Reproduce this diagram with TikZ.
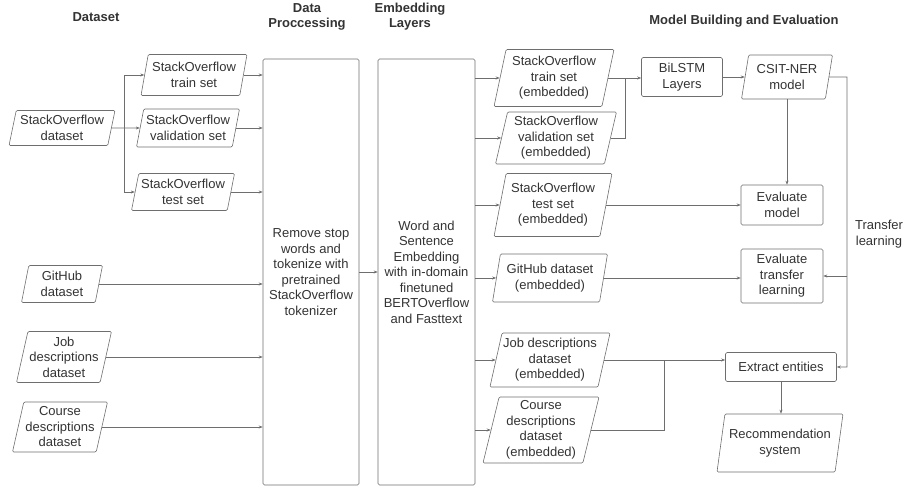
\documentclass[tikz,border=0pt]{standalone}
\usepackage{fontspec}
\setmainfont{Liberation Sans}
\usepackage{tikz}
\usetikzlibrary{arrows.meta}
\usetikzlibrary{shapes.geometric}
\definecolor{linecol}{HTML}{6E6E6E}
\definecolor{textcol}{HTML}{333333}
\tikzset{
  data/.style={trapezium, trapezium left angle=75, trapezium right angle=105, trapezium stretches body,
    draw=linecol, rounded corners=1.2pt, align=center, inner sep=1pt, text=textcol},
  box/.style={rectangle, draw=linecol, rounded corners=1.5pt, align=center, inner sep=1pt, text=textcol},
  head/.style={align=center, font=\fontsize{13}{15}\selectfont\bfseries, text=textcol},
}
\begin{document}
\begin{tikzpicture}[x=1pt, y=-1pt, line width=0.6pt, >={Stealth[length=4pt,width=3pt]},
    every node/.style={font=\fontsize{13}{15.5}\selectfont}]
      \useasboundingbox (0,0) rectangle (906,486);
      \node[head] at (96,17) (h1){Dataset};
      \node[head] at (307,17) (h2){Data\\Proccessing};
      \node[head] at (410,17) (h3){Embedding\\Layers};
      \node[head] at (744,21) (h4){Model Building and Evaluation};
      \node[data, minimum width=106, minimum height=35] at (62,128) (so){StackOverflow\\dataset};
      \node[data, minimum width=106, minimum height=41] at (194,75) (sotr){StackOverflow\\train set};
      \node[data, minimum width=103, minimum height=38] at (188,128) (soval){StackOverflow\\validation set};
      \node[data, minimum width=103, minimum height=37] at (183,192) (sote){StackOverflow\\test set};
      \node[data, minimum width=81, minimum height=37] at (62,284) (gh){GitHub\\dataset};
      \node[data, minimum width=95, minimum height=51] at (64,357) (job){Job\\descriptions\\dataset};
      \node[data, minimum width=95, minimum height=50] at (60,427) (co){Course\\descriptions\\dataset};
      \node[box, minimum width=96, minimum height=426] at (311,272) (dp){Remove stop\\words and\\tokenize with\\pretrained\\StackOverflow\\tokenizer};
      \node[box, minimum width=97, minimum height=426] at (426.5,272) (emb){Word and\\Sentence\\Embedding\\with in-domain\\finetuned\\BERTOverflow\\and Fasttext};
      \node[data, minimum width=120, minimum height=57] at (554,78) (sotre){StackOverflow\\train set\\(embedded)};
      \node[data, minimum width=121, minimum height=52] at (556,138) (sovle){StackOverflow\\validation set\\(embedded)};
      \node[data, minimum width=118, minimum height=63] at (553,205) (sotee){StackOverflow\\test set\\(embedded)};
      \node[data, minimum width=115, minimum height=48] at (550,278) (ghe){GitHub dataset\\(embedded)};
      \node[data, minimum width=115, minimum height=54] at (550,360) (jobe){Job descriptions\\dataset\\(embedded)};
      \node[data, minimum width=116, minimum height=66] at (541,430) (coe){Course\\descriptions\\dataset\\(embedded)};
      \node[box, minimum width=81, minimum height=39] at (682,77) (bil){BiLSTM\\Layers};
      \node[data, minimum width=91, minimum height=44] at (787,77) (csit){CSIT-NER\\model};
      \node[box, minimum width=82, minimum height=40] at (782,205) (evm){Evaluate\\model};
      \node[box, minimum width=82, minimum height=54] at (782,276) (evt){Evaluate\\transfer\\learning};
      \node[box, minimum width=111, minimum height=29] at (781,367) (ext){Extract entities};
      \node[data, minimum width=126, minimum height=58] at (780,443) (rec){Recommendation\\system};
      \node[align=center, text=textcol] at (879,234) (tl){Transfer\\learning};
      \coordinate (b1) at (124,128);
      \coordinate (j1) at (625,78);
      \coordinate (j2) at (664,360);
      \coordinate (t1) at (847,77);
      \begin{scope}[draw=linecol]
      \draw[->] (so.east) -- (soval.west);
      \draw[->] (b1) |- (sotr.west);
      \draw[->] (b1) |- (sote.west);
      \draw[->] (sotr.east) -- (sotr.east -| dp.west);
      \draw[->] (soval.east) -- (soval.east -| dp.west);
      \draw[->] (sote.east) -- (sote.east -| dp.west);
      \draw[->] (gh.east) -- (gh.east -| dp.west);
      \draw[->] (job.east) -- (job.east -| dp.west);
      \draw[->] (co.east) -- (co.east -| dp.west);
      \draw[->] (dp.east) -- (dp.east -| emb.west);
      \draw[->] (sotre.west -| emb.east) -- (sotre.west);
      \draw[->] (sovle.west -| emb.east) -- (sovle.west);
      \draw[->] (sotee.west -| emb.east) -- (sotee.west);
      \draw[->] (ghe.west -| emb.east) -- (ghe.west);
      \draw[->] (jobe.west -| emb.east) -- (jobe.west);
      \draw[->] (coe.west -| emb.east) -- (coe.west);
      \draw[->] (sotre.east) -- (sotre.east -| bil.west);
      \draw (sovle.east) -| (j1);
      \draw[->] (bil.east) -- (bil.east -| csit.west);
      \draw[->] (csit.south) -- (csit.south |- evm.north);
      \draw[->] (sotee.east) -- (sotee.east -| evm.west);
      \draw[->] (ghe.east) -- (ghe.east -| evt.west);
      \draw[->] (jobe.east) -- (jobe.east -| ext.west);
      \draw (coe.east) -| (j2);
      \draw[->] (csit.east) -- (t1) |- (ext.east);
      \draw[->] (t1 |- evt.east) -- (evt.east);
      \draw[->] (ext.south) -- (ext.south |- rec.north);
      \end{scope}
    \end{tikzpicture}
\end{document}
